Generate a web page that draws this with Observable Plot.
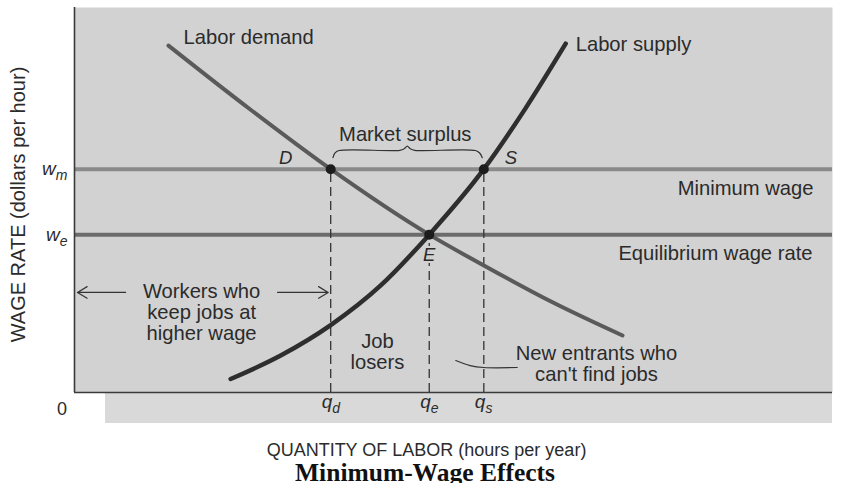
<!DOCTYPE html>
<html>
<head>
<meta charset="utf-8">
<script src="https://cdn.jsdelivr.net/npm/d3@7"></script>
<script src="https://cdn.jsdelivr.net/npm/@observablehq/plot@0.6"></script>
<style>
  body { margin: 0; background: #fff; }
  #chart svg { display: block; }
  #title {
    width: 850px; text-align: center;
    font: bold 25.5px "Liberation Serif", "Times New Roman", serif;
    line-height: 20px; color: #111;
  }
</style>
</head>
<body>
<div id="chart"></div>
<div id="title">Minimum-Wage Effects</div>
<script>
// ---- data (arbitrary units 0–100 on both axes) ----
const wageM = 58;   // minimum wage w_m
const wageE = 41;   // equilibrium wage w_e
const qD = 33.8;    // quantity demanded at w_m
const qE = 46.8;    // equilibrium quantity
const qS = 54;      // quantity supplied at w_m

const wageTicks = [{label: "w_m", w: wageM}, {label: "w_e", w: wageE}];
const quantityTicks = [{label: "q_d", q: qD, w: wageM}, {label: "q_e", q: qE, w: wageE}, {label: "q_s", q: qS, w: wageM}];

const demand = [
  {q: 12.4, w: 90.1}, {q: 23.2, w: 73.5}, {q: qD, w: wageM}, {q: qE, w: wageE},
  {q: 54.0, w: 33.0}, {q: 63.2, w: 23.3}, {q: 72.3, w: 14.8}
];
const supply = [
  {q: 20.6, w: 3.5}, {q: 27.2, w: 9.6}, {q: 33.8, w: 17.5}, {q: 40.4, w: 27.8},
  {q: qE, w: wageE}, {q: qS, w: wageM}, {q: 59.5, w: 73.8}, {q: 64.8, w: 90.6}
];
const points = [
  {name: "D", q: qD, w: wageM},
  {name: "E", q: qE, w: wageE},
  {name: "S", q: qS, w: wageM}
];
const yTitle = "WAGE RATE (dollars per hour)";
const xTitle = "QUANTITY OF LABOR (hours per year)";

// ---- derived annotation geometry ----
const mid = (qD + qS) / 2;
const brace = [
  [qD + 0.3, wageM + 3.0], [qD + 0.55, wageM + 4.2], [qD + 1.1, wageM + 4.85],
  [mid - 1.0, wageM + 4.9], [mid - 0.4, wageM + 5.3], [mid, wageM + 6.0],
  [mid + 0.4, wageM + 5.3], [mid + 1.0, wageM + 4.9],
  [qS - 1.1, wageM + 4.85], [qS - 0.55, wageM + 4.2], [qS - 0.2, wageM + 3.0]
].map(([q, w]) => ({q, w}));
const leader = [
  [qS - 3.7, 8.3], [qS - 1.8, 7.0], [qS, 6.5], [qS + 4.4, 6.5]
].map(([q, w]) => ({q, w}));
const arrowRow = 26;

const ink = "#2b2b2b";
const bg = "#d2d2d2";
const fs = 20.2;

const chart = Plot.plot({
  width: 850,
  height: 463,
  marginLeft: 74,
  marginRight: 18,
  marginTop: 7,
  marginBottom: 71,
  x: {domain: [0, 100], axis: null},
  y: {domain: [0, 100], axis: null},
  style: {
    fontFamily: '"Liberation Sans", Arial, Helvetica, sans-serif',
    color: ink,
    background: "linear-gradient(#d9d9d9,#d9d9d9) no-repeat 105px 392px / 727px 31px, #fff"
  },
  marks: [
    Plot.frame({fill: bg, stroke: "none"}),
    // wage levels
    Plot.ruleY([wageM], {stroke: "#8a8a8a", strokeWidth: 4}),
    Plot.ruleY([wageE], {stroke: "#6c6c6c", strokeWidth: 4}),
    // dashed drop lines
    Plot.ruleX(quantityTicks, {x: "q", y1: 0, y2: "w", stroke: "#333", strokeWidth: 1.3, strokeDasharray: "9,5"}),
    // axes
    Plot.ruleX([0], {stroke: "#3a3a3a", strokeWidth: 1.6}),
    Plot.ruleY([0], {stroke: "#3a3a3a", strokeWidth: 1.6}),
    // curves
    Plot.line(demand, {x: "q", y: "w", curve: "monotone-x", stroke: "#5a5a5a", strokeWidth: 4}),
    Plot.line(supply, {x: "q", y: "w", curve: "monotone-x", stroke: "#2e2e2e", strokeWidth: 4.5}),
    // E label sits on a small halo so the drop line starts below it
    Plot.text([points[1]], {x: "q", y: "w", text: "name", dx: 0, dy: 20, fontSize: 18.5, fontStyle: "italic", fill: ink, stroke: bg, strokeWidth: 4}),
    Plot.dot(points, {x: "q", y: "w", r: 5, fill: "#1c1c1c", stroke: "none"}),
    // brace + leader
    Plot.line(brace, {x: "q", y: "w", curve: "catmull-rom", stroke: "#333", strokeWidth: 1.2}),
    Plot.line(leader, {x: "q", y: "w", curve: "catmull-rom", stroke: "#333", strokeWidth: 1.2}),
    // arrows
    Plot.arrow([0], {x1: qD / 2, x2: 0, y1: arrowRow, y2: arrowRow, insetStart: 77, insetEnd: 3,
      stroke: "#333", strokeWidth: 1.2, headLength: 14, headAngle: 62}),
    Plot.arrow([0], {x1: qD / 2, x2: qD, y1: arrowRow, y2: arrowRow, insetStart: 75, insetEnd: 2.5,
      stroke: "#333", strokeWidth: 1.2, headLength: 14, headAngle: 62}),
    // curve labels
    Plot.text([demand[0]], {x: "q", y: "w", text: () => "Labor demand", textAnchor: "start", lineAnchor: "middle", dx: 15, dy: -8.5, fontSize: fs, fill: ink}),
    Plot.text([supply[supply.length - 1]], {x: "q", y: "w", text: () => "Labor supply", textAnchor: "start", lineAnchor: "middle", dx: 10, dy: 0.4, fontSize: fs, fill: ink}),
    Plot.text([wageM], {y: d => d, text: () => "Minimum wage", frameAnchor: "right", textAnchor: "end", lineAnchor: "middle", dx: -19, dy: 19.6, fontSize: fs, fill: ink}),
    Plot.text([wageE], {y: d => d, text: () => "Equilibrium wage rate", frameAnchor: "right", textAnchor: "end", lineAnchor: "middle", dx: -20, dy: 18.5, fontSize: fs, fill: ink}),
    Plot.text([mid], {x: d => d, y: () => wageM, text: () => "Market surplus", lineAnchor: "middle", dx: -2, dy: -35, fontSize: fs, fill: ink}),
    // point labels
    Plot.text([points[0]], {x: "q", y: "w", text: "name", dx: -45, dy: -11.5, fontSize: 18.5, fontStyle: "italic", fill: ink}),
    Plot.text([points[2]], {x: "q", y: "w", text: "name", dx: 27, dy: -11.5, fontSize: 18.5, fontStyle: "italic", fill: ink}),
    // region annotations
    Plot.text([qD / 2], {x: d => d, text: () => "Workers who\nkeep jobs at\nhigher wage", frameAnchor: "bottom", textAnchor: "middle", lineAnchor: "middle", dx: -1, dy: -80.4, lineHeight: 1.03, fontSize: fs, fill: ink}),
    Plot.text([(qD + qE) / 2], {x: d => d, text: () => "Job\nlosers", frameAnchor: "bottom", textAnchor: "middle", lineAnchor: "middle", dx: -2.5, dy: -40.4, lineHeight: 1.03, fontSize: fs, fill: ink}),
    Plot.text([qS], {x: d => d, text: () => "New entrants who\ncan't find jobs", frameAnchor: "bottom", textAnchor: "middle", lineAnchor: "middle", dx: 112.7, dy: -28.4, lineHeight: 1.03, fontSize: fs, fill: ink}),
    // tick labels
    Plot.text(wageTicks, {y: "w", text: "label", frameAnchor: "left", textAnchor: "end", lineAnchor: "middle", dx: -7, dy: 0, fontSize: 19, fontStyle: "italic", fill: ink}),
    Plot.text(quantityTicks, {x: "q", text: "label", frameAnchor: "bottom", textAnchor: "start", lineAnchor: "middle", dx: -9, dy: 9.9, fontSize: 19, fontStyle: "italic", fill: ink}),
    Plot.text(["0"], {text: d => d, frameAnchor: "bottom-left", textAnchor: "middle", lineAnchor: "middle", dx: -12.5, dy: 17, fontSize: 18, fill: ink}),
    // axis titles
    Plot.text([yTitle], {text: d => d, frameAnchor: "left", textAnchor: "middle", lineAnchor: "middle", rotate: -90, dx: -56, dy: 4.5, fontSize: 20, fill: ink}),
    Plot.text([xTitle], {text: d => d, frameAnchor: "bottom", textAnchor: "middle", lineAnchor: "middle", dx: -27, dy: 57.5, fontSize: 18, fill: ink})
  ]
});

// turn "x_y" labels into a letter with an italic subscript
chart.querySelectorAll("text").forEach(t => {
  if (t.children.length) return;
  const s = t.textContent;
  const k = s.indexOf("_");
  if (k < 0) return;
  t.textContent = s.slice(0, k);
  const ts = document.createElementNS("http://www.w3.org/2000/svg", "tspan");
  ts.setAttribute("font-size", "14");
  ts.setAttribute("dy", "5");
  ts.textContent = s.slice(k + 1);
  t.appendChild(ts);
});

document.getElementById("chart").appendChild(chart);
</script>
</body>
</html>
